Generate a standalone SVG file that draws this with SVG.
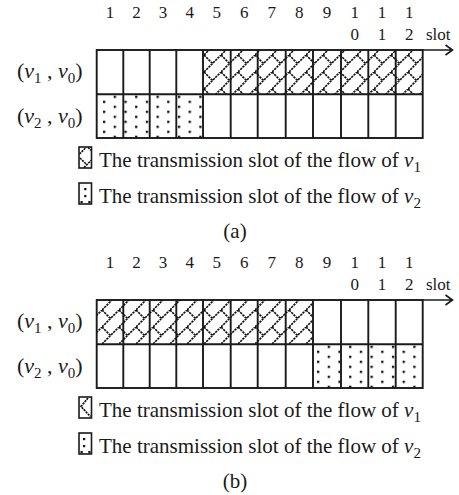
<svg xmlns="http://www.w3.org/2000/svg" width="459" height="495" viewBox="0 0 459 495">
<style>
text{font-family:"Liberation Serif","Times New Roman",serif;fill:#1a1a1a}
.num{font-size:17px;text-anchor:middle}
.lab{font-size:22px}
.leg{font-size:21px}
.cap{font-size:21px;text-anchor:middle}
.it{font-style:italic}
.grid{fill:none;stroke:#1a1a1a;stroke-width:1.9}
.box{fill:#fff;stroke:#1a1a1a;stroke-width:1.6}
.arr{fill:none;stroke:#1a1a1a;stroke-width:1.6}
.dot{fill:#111}
</style>
<defs>
<pattern id="hatch" patternUnits="userSpaceOnUse" x="0" y="4" width="17" height="17">
<path d="M0,17 L17,0 M0,0 L8.5,8.5" stroke="#111" stroke-width="1.7" stroke-dasharray="2.4 0.8" fill="none"/>
</pattern>
<pattern id="dots" patternUnits="userSpaceOnUse" x="103" y="95.7" width="21.4" height="10">
<rect x="0" y="5" width="2.3" height="2.3" fill="#111"/>
<rect x="10.7" y="0" width="2.3" height="2.3" fill="#111"/>
</pattern>
</defs>

<g id="part-a">
<g id="slot-numbers-a">
<text class="num" x="110" y="18">1</text>
<text class="num" x="136.5" y="18">2</text>
<text class="num" x="163" y="18">3</text>
<text class="num" x="189.7" y="18">4</text>
<text class="num" x="216.8" y="18">5</text>
<text class="num" x="244.2" y="18">6</text>
<text class="num" x="271.7" y="18">7</text>
<text class="num" x="299.3" y="18">8</text>
<text class="num" x="327" y="18">9</text>
<text class="num" x="354.7" y="18">1</text>
<text class="num" x="382" y="18">1</text>
<text class="num" x="409.3" y="18">1</text>
<text class="num" x="354.7" y="40">0</text>
<text class="num" x="382" y="40">1</text>
<text class="num" x="409.3" y="40">2</text>
<text x="426" y="40" style="font-size:17px">slot</text>
</g>
<g id="row-labels-a">
<text class="lab" x="17" y="78">(<tspan class="it">v</tspan><tspan dy="5" font-size="15">1</tspan><tspan dy="-5"> , </tspan><tspan class="it">v</tspan><tspan dy="5" font-size="15">0</tspan><tspan dy="-5">)</tspan></text>
<text class="lab" x="17" y="123">(<tspan class="it">v</tspan><tspan dy="5" font-size="15">2</tspan><tspan dy="-5"> , </tspan><tspan class="it">v</tspan><tspan dy="5" font-size="15">0</tspan><tspan dy="-5">)</tspan></text>
</g>
<g id="grid-a">
<rect x="203" y="50" width="219.7" height="44.3" fill="url(#hatch)"/>
<rect x="96.7" y="94.3" width="106.3" height="43.7" fill="url(#dots)"/>
<rect class="grid" x="96.7" y="50" width="326" height="88"/>
<path class="grid" d="M96.7,94.3 H422.7 M123.3,50 V138 M149.7,50 V138 M176.3,50 V138 M203,50 V138 M230.7,50 V138 M257.7,50 V138 M285.7,50 V138 M313,50 V138 M341,50 V138 M368.3,50 V138 M395.7,50 V138"/>
</g>
<g id="axis-a">
<path class="arr" d="M422.7,50 H452.5 M445.5,45 L452.5,50 L445.5,55"/>
</g>
<g id="legend-a">
<g id="legend-a-v1">
<rect class="box" x="79" y="147" width="12.5" height="21"/>
<path d="M79.5,154 L86,147.5 M80,158 L86,164 M84,167.5 L91,160.5 M88,147.5 L91,150.5" fill="none" stroke="#111" stroke-width="1.6" stroke-dasharray="2.2 0.8"/>
<text class="leg" x="99" y="167">The transmission slot of the flow of <tspan class="it">v</tspan><tspan dy="5" font-size="15">1</tspan></text>
</g>
<g id="legend-a-v2">
<rect class="box" x="79" y="183" width="12.5" height="21"/>
<rect class="dot" x="84.2" y="188" width="2.2" height="2.2"/>
<rect class="dot" x="84.2" y="195" width="2.2" height="2.2"/>
<rect class="dot" x="80.5" y="201" width="2.2" height="2.2"/>
<rect class="dot" x="88.3" y="201" width="2.2" height="2.2"/>
<text class="leg" x="99" y="203">The transmission slot of the flow of <tspan class="it">v</tspan><tspan dy="5" font-size="15">2</tspan></text>
</g>
<text class="cap" x="235" y="238">(a)</text>
</g>
</g>

<g id="part-b">
<g id="slot-numbers-b">
<text class="num" x="110" y="268">1</text>
<text class="num" x="136.5" y="268">2</text>
<text class="num" x="163" y="268">3</text>
<text class="num" x="189.7" y="268">4</text>
<text class="num" x="216.8" y="268">5</text>
<text class="num" x="244.2" y="268">6</text>
<text class="num" x="271.7" y="268">7</text>
<text class="num" x="299.3" y="268">8</text>
<text class="num" x="327" y="268">9</text>
<text class="num" x="354.7" y="268">1</text>
<text class="num" x="382" y="268">1</text>
<text class="num" x="409.3" y="268">1</text>
<text class="num" x="354.7" y="290">0</text>
<text class="num" x="382" y="290">1</text>
<text class="num" x="409.3" y="290">2</text>
<text x="426" y="290" style="font-size:17px">slot</text>
</g>
<g id="row-labels-b">
<text class="lab" x="17" y="328">(<tspan class="it">v</tspan><tspan dy="5" font-size="15">1</tspan><tspan dy="-5"> , </tspan><tspan class="it">v</tspan><tspan dy="5" font-size="15">0</tspan><tspan dy="-5">)</tspan></text>
<text class="lab" x="17" y="373">(<tspan class="it">v</tspan><tspan dy="5" font-size="15">2</tspan><tspan dy="-5"> , </tspan><tspan class="it">v</tspan><tspan dy="5" font-size="15">0</tspan><tspan dy="-5">)</tspan></text>
</g>
<g id="grid-b">
<rect x="96.7" y="300" width="216.3" height="44.3" fill="url(#hatch)"/>
<rect x="313" y="344.3" width="109.7" height="43.7" fill="url(#dots)"/>
<rect class="grid" x="96.7" y="300" width="326" height="88"/>
<path class="grid" d="M96.7,344.3 H422.7 M123.3,300 V388 M149.7,300 V388 M176.3,300 V388 M203,300 V388 M230.7,300 V388 M257.7,300 V388 M285.7,300 V388 M313,300 V388 M341,300 V388 M368.3,300 V388 M395.7,300 V388"/>
</g>
<g id="axis-b">
<path class="arr" d="M422.7,300 H452.5 M445.5,295 L452.5,300 L445.5,305"/>
</g>
<g id="legend-b">
<g id="legend-b-v1">
<rect class="box" x="79" y="397" width="12.5" height="21"/>
<path d="M88,398 L81,406.5 L88,414 L90.5,416.5" fill="none" stroke="#111" stroke-width="1.7" stroke-dasharray="2.2 0.8"/>
<text class="leg" x="99" y="417">The transmission slot of the flow of <tspan class="it">v</tspan><tspan dy="5" font-size="15">1</tspan></text>
</g>
<g id="legend-b-v2">
<rect class="box" x="79" y="433" width="12.5" height="21"/>
<rect class="dot" x="83" y="438" width="2.2" height="2.2"/>
<rect class="dot" x="83" y="445" width="2.2" height="2.2"/>
<rect class="dot" x="80.5" y="451" width="2.2" height="2.2"/>
<rect class="dot" x="88.3" y="451" width="2.2" height="2.2"/>
<text class="leg" x="99" y="453">The transmission slot of the flow of <tspan class="it">v</tspan><tspan dy="5" font-size="15">2</tspan></text>
</g>
<text class="cap" x="235" y="488">(b)</text>
</g>
</g>
</svg>
